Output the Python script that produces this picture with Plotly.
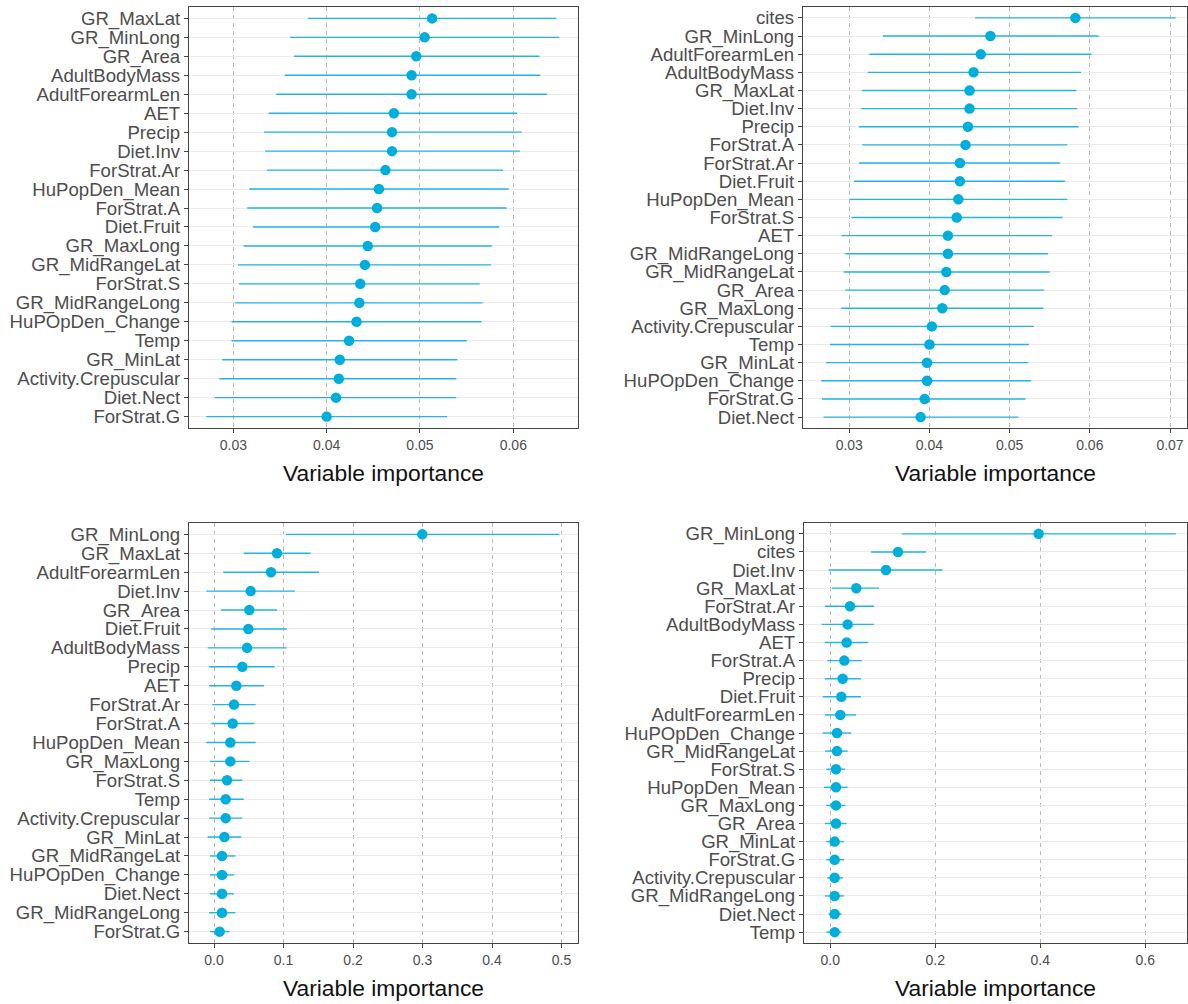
import plotly.graph_objects as go

# ---- Panel A (top-left) ----
vars_a = ["GR_MaxLat", "GR_MinLong", "GR_Area", "AdultBodyMass", "AdultForearmLen", "AET",
          "Precip", "Diet.Inv", "ForStrat.Ar", "HuPopDen_Mean", "ForStrat.A", "Diet.Fruit",
          "GR_MaxLong", "GR_MidRangeLat", "ForStrat.S", "GR_MidRangeLong", "HuPOpDen_Change",
          "Temp", "GR_MinLat", "Activity.Crepuscular", "Diet.Nect", "ForStrat.G"]
imp_a = [0.0513, 0.0505, 0.0496, 0.0491, 0.0491, 0.0472, 0.0470, 0.0470, 0.0463, 0.0456,
         0.0454, 0.0452, 0.0444, 0.0441, 0.0436, 0.0435, 0.0432, 0.0424, 0.0414, 0.0413,
         0.0410, 0.0400]
lo_a = [0.0380, 0.0361, 0.0365, 0.0355, 0.0346, 0.0338, 0.0333, 0.0334, 0.0336, 0.0317,
        0.0315, 0.0321, 0.0311, 0.0305, 0.0306, 0.0302, 0.0298, 0.0298, 0.0288, 0.0285,
        0.0280, 0.0271]
hi_a = [0.0646, 0.0649, 0.0628, 0.0629, 0.0636, 0.0604, 0.0609, 0.0607, 0.0589, 0.0595,
        0.0593, 0.0585, 0.0577, 0.0576, 0.0564, 0.0567, 0.0566, 0.0550, 0.0540, 0.0539,
        0.0539, 0.0529]

# ---- Panel B (top-right) ----
vars_b = ["cites", "GR_MinLong", "AdultForearmLen", "AdultBodyMass", "GR_MaxLat", "Diet.Inv",
          "Precip", "ForStrat.A", "ForStrat.Ar", "Diet.Fruit", "HuPopDen_Mean", "ForStrat.S",
          "AET", "GR_MidRangeLong", "GR_MidRangeLat", "GR_Area", "GR_MaxLong",
          "Activity.Crepuscular", "Temp", "GR_MinLat", "HuPOpDen_Change", "ForStrat.G",
          "Diet.Nect"]
imp_b = [0.0582, 0.0476, 0.0464, 0.0455, 0.0450, 0.0450, 0.0448, 0.0445, 0.0438, 0.0438,
         0.0436, 0.0434, 0.0423, 0.0423, 0.0421, 0.0419, 0.0416, 0.0403, 0.0400, 0.0397,
         0.0397, 0.0394, 0.0389]
lo_b = [0.0457, 0.0342, 0.0325, 0.0323, 0.0316, 0.0315, 0.0312, 0.0316, 0.0312, 0.0306,
        0.0300, 0.0303, 0.0290, 0.0295, 0.0293, 0.0295, 0.0290, 0.0277, 0.0276, 0.0271,
        0.0265, 0.0266, 0.0268]
hi_b = [0.0707, 0.0611, 0.0602, 0.0589, 0.0583, 0.0584, 0.0586, 0.0572, 0.0563, 0.0569,
        0.0572, 0.0566, 0.0553, 0.0548, 0.0550, 0.0543, 0.0542, 0.0530, 0.0524, 0.0523,
        0.0527, 0.0520, 0.0511]

# ---- Panel C (bottom-left) ----
vars_c = ["GR_MinLong", "GR_MaxLat", "AdultForearmLen", "Diet.Inv", "GR_Area", "Diet.Fruit",
          "AdultBodyMass", "Precip", "AET", "ForStrat.Ar", "ForStrat.A", "HuPopDen_Mean",
          "GR_MaxLong", "ForStrat.S", "Temp", "Activity.Crepuscular", "GR_MinLat",
          "GR_MidRangeLat", "HuPOpDen_Change", "Diet.Nect", "GR_MidRangeLong", "ForStrat.G"]
imp_c = [0.2996, 0.0906, 0.0820, 0.0527, 0.0508, 0.0494, 0.0475, 0.0407, 0.0321, 0.0288,
         0.0268, 0.0235, 0.0235, 0.0187, 0.0168, 0.0168, 0.0149, 0.0115, 0.0115, 0.0115,
         0.0115, 0.0081]
lo_c = [0.1035, 0.0427, 0.0134, -0.0110, 0.0101, -0.0038, -0.0091, -0.0072, -0.0072, -0.0024,
        -0.0038, -0.0110, -0.0058, -0.0058, -0.0072, -0.0072, -0.0091, -0.0058, -0.0058,
        -0.0058, -0.0072, -0.0058]
hi_c = [0.4966, 0.1390, 0.1510, 0.1165, 0.0906, 0.1045, 0.1045, 0.0872, 0.0719, 0.0599,
        0.0580, 0.0599, 0.0508, 0.0407, 0.0427, 0.0407, 0.0393, 0.0307, 0.0288, 0.0288,
        0.0307, 0.0221]

# ---- Panel D (bottom-right) ----
vars_d = ["GR_MinLong", "cites", "Diet.Inv", "GR_MaxLat", "ForStrat.Ar", "AdultBodyMass", "AET",
          "ForStrat.A", "Precip", "Diet.Fruit", "AdultForearmLen", "HuPOpDen_Change",
          "GR_MidRangeLat", "ForStrat.S", "HuPopDen_Mean", "GR_MaxLong", "GR_Area", "GR_MinLat",
          "ForStrat.G", "Activity.Crepuscular", "GR_MidRangeLong", "Diet.Nect", "Temp"]
imp_d = [0.3968, 0.1289, 0.1060, 0.0495, 0.0375, 0.0330, 0.0311, 0.0267, 0.0235, 0.0210,
         0.0190, 0.0127, 0.0127, 0.0108, 0.0108, 0.0108, 0.0108, 0.0083, 0.0083, 0.0083,
         0.0083, 0.0083, 0.0083]
lo_d = [0.1359, 0.0775, -0.0032, 0.0032, -0.0102, -0.0165, -0.0102, -0.0057, -0.0102, -0.0146,
        -0.0102, -0.0146, -0.0102, -0.0076, -0.0121, -0.0076, -0.0102, -0.0076, -0.0076,
        -0.0057, -0.0102, -0.0032, -0.0076]
hi_d = [0.6578, 0.1822, 0.2140, 0.0927, 0.0832, 0.0832, 0.0717, 0.0603, 0.0584, 0.0584,
        0.0489, 0.0400, 0.0330, 0.0286, 0.0330, 0.0286, 0.0311, 0.0260, 0.0260, 0.0241,
        0.0260, 0.0216, 0.0216]

# x-axis settings per panel: range, tick values, tick format
xcfg = [
    dict(range=[0.02525, 0.06693], tickvals=[0.03, 0.04, 0.05, 0.06], tickformat=".2f"),
    dict(range=[0.02423, 0.07212], tickvals=[0.03, 0.04, 0.05, 0.06, 0.07], tickformat=".2f"),
    dict(range=[-0.036, 0.5237], tickvals=[0.0, 0.1, 0.2, 0.3, 0.4, 0.5], tickformat=".1f"),
    dict(range=[-0.0501, 0.6794], tickvals=[0.0, 0.2, 0.4, 0.6], tickformat=".1f"),
]

W, H = 1188, 1004
# panel boxes in pixels: (left, right, top, bottom)
boxes = [(189, 578, 7, 428), (803, 1187, 7, 428), (189, 578, 523, 943), (804, 1187, 523, 943)]

POINT = "#00AEDC"
BAR = "#22B4E4"
TXT = "#4D4D4D"
FONT = "Liberation Sans, Arial"

fig = go.Figure()
panels = [(vars_a, imp_a, lo_a, hi_a), (vars_b, imp_b, lo_b, hi_b),
          (vars_c, imp_c, lo_c, hi_c), (vars_d, imp_d, lo_d, hi_d)]

layout = {}
annotations = []
for i, ((names, imp, lo, hi), cfg, box) in enumerate(zip(panels, xcfg, boxes)):
    k = "" if i == 0 else str(i + 1)
    plus = [h - m for h, m in zip(hi, imp)]
    minus = [m - l for m, l in zip(imp, lo)]
    fig.add_trace(go.Scatter(
        x=imp, y=names, mode="markers",
        marker=dict(color=POINT, size=10.5, line=dict(width=0)),
        error_x=dict(type="data", symmetric=False, array=plus, arrayminus=minus,
                     color=BAR, thickness=1.4, width=0),
        xaxis="x" + k, yaxis="y" + k, showlegend=False,
        hovertemplate="%{y}: %{x:.4f}<extra></extra>",
    ))
    l, r, t, b = box
    n = len(names)
    layout["xaxis" + k] = dict(
        domain=[l / W, r / W], anchor="y" + k, range=cfg["range"],
        tickmode="array", tickvals=cfg["tickvals"], tickformat=cfg["tickformat"],
        showgrid=True, gridcolor="#B8B8B8", griddash="4px,4px", gridwidth=1,
        zeroline=False, showline=True, mirror=True, linecolor="#444444", linewidth=1.2,
        ticks="outside", ticklen=4, tickcolor="#444444", tickwidth=1,
        tickfont=dict(family=FONT, size=14, color=TXT),
    )
    layout["yaxis" + k] = dict(
        domain=[1 - b / H, 1 - t / H], anchor="x" + k, type="category",
        categoryorder="array", categoryarray=names[::-1],
        tickmode="array", tickvals=names, range=[-0.6, n - 0.4],
        showgrid=True, gridcolor="#EBEBEB", gridwidth=1,
        zeroline=False, showline=True, mirror=True, linecolor="#444444", linewidth=1.2,
        ticks="outside", ticklen=4, tickcolor="#444444", tickwidth=1,
        tickfont=dict(family=FONT, size=18.6, color=TXT),
    )
    annotations.append(dict(
        text="Variable importance", xref="paper", yref="paper",
        x=(l + r) / 2 / W, y=1 - (b + 45) / H, xanchor="center", yanchor="middle",
        showarrow=False, font=dict(family=FONT, size=22.8, color="#111111"),
    ))

fig.update_layout(
    width=W, height=H, margin=dict(l=0, r=0, t=0, b=0),
    paper_bgcolor="white", plot_bgcolor="white",
    annotations=annotations, **layout,
)

fig.write_html("out.html")
